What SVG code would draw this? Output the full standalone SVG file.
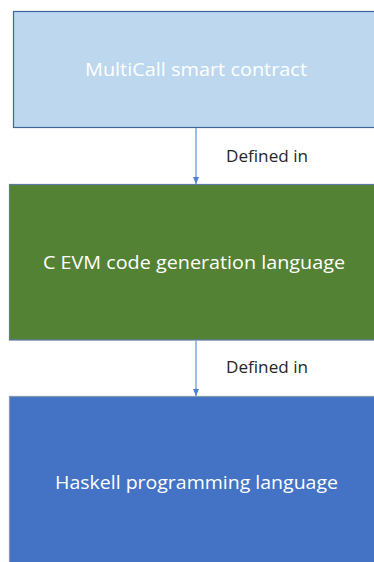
<svg xmlns="http://www.w3.org/2000/svg" width="374" height="562" viewBox="0 0 374 562">
  <defs>
    <style>
      .box { stroke-width: 1.2; }
      .title { font-family: "Open Sans", "Liberation Sans", sans-serif; font-size: 19px; fill: #ffffff; text-anchor: middle; }
      .edge { stroke: #5B8FD9; stroke-width: 1.2; fill: none; }
      .label { font-family: "Open Sans", "Liberation Sans", sans-serif; font-size: 17px; fill: #262626; }
    </style>
    <marker id="arrow" markerWidth="8" markerHeight="6" refX="7" refY="3" orient="auto" markerUnits="userSpaceOnUse">
      <path d="M0,0 L7,3 L0,6 Z" fill="#4F7FD0"/>
    </marker>
  </defs>
  <rect width="374" height="562" fill="#ffffff"/>

  <g id="multicall">
    <rect class="box" x="13.5" y="11.5" width="370" height="116" fill="#BDD7EE" stroke="#3F6698"/>
    <text class="title" x="196" y="76" textLength="222" lengthAdjust="spacingAndGlyphs">MultiCall smart contract</text>
  </g>

  <g id="cevm">
    <rect class="box" x="9.5" y="184.5" width="374" height="155.5" fill="#548235" stroke="#5A78A8"/>
    <text class="title" x="194" y="269" textLength="302" lengthAdjust="spacingAndGlyphs">C EVM code generation language</text>
  </g>

  <g id="haskell">
    <rect class="box" x="9.5" y="396.5" width="374" height="180" fill="#4472C4" stroke="#8497B0"/>
    <text class="title" x="196.5" y="489" textLength="283" lengthAdjust="spacingAndGlyphs">Haskell programming language</text>
  </g>

  <g id="connectors">
    <line class="edge" x1="196" y1="128" x2="196" y2="184" marker-end="url(#arrow)"/>
    <text class="label" x="226" y="162" textLength="82" lengthAdjust="spacingAndGlyphs">Defined in</text>
    <line class="edge" x1="196" y1="340.5" x2="196" y2="396" marker-end="url(#arrow)"/>
    <text class="label" x="226" y="373" textLength="82" lengthAdjust="spacingAndGlyphs">Defined in</text>
  </g>
</svg>
